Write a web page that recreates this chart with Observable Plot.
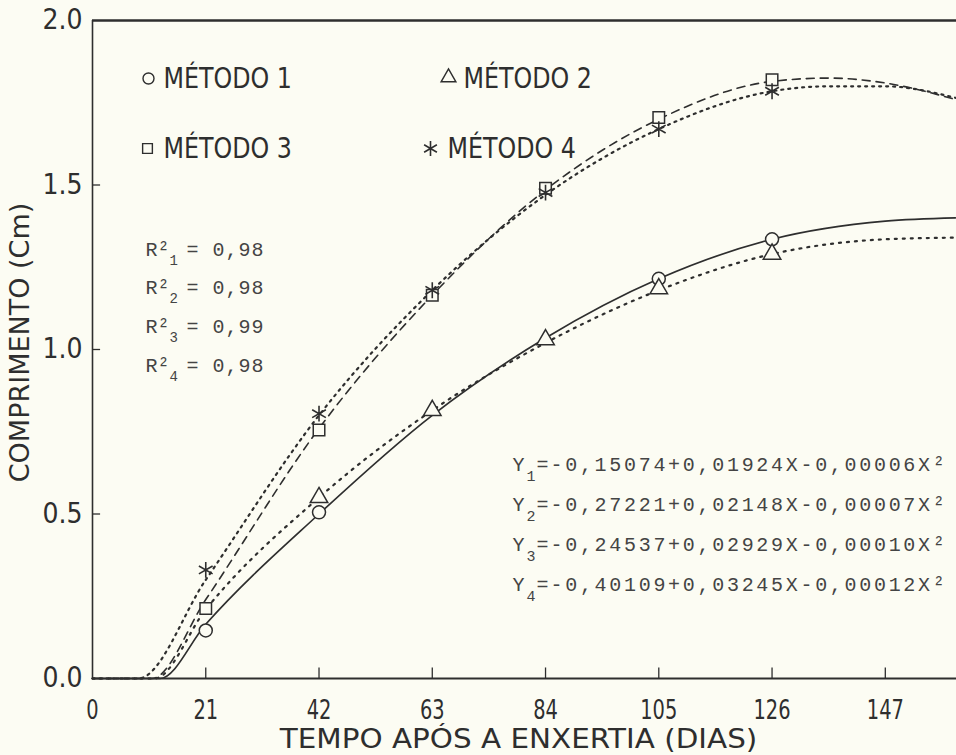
<!DOCTYPE html>
<html>
<head>
<meta charset="utf-8">
<script src="https://cdn.jsdelivr.net/npm/d3@7"></script>
<script src="https://cdn.jsdelivr.net/npm/@observablehq/plot@0.6"></script>
<style>
  html, body { margin: 0; padding: 0; background: #fcfcf3; }
  #chart svg { display: block; background: #fcfcf3; }
</style>
</head>
<body>
<div id="chart"></div>
<script>
// ---- data ----
const xTicks = [0, 21, 42, 63, 84, 105, 126, 147];
const yTicks = [0.0, 0.5, 1.0, 1.5, 2.0];

// fitted curves
const curve1X = [0, 12.5, 21, 42, 63, 84, 105, 126, 147, 160];
const curve1Y = [0, 0, 0.165, 0.50, 0.80, 1.035, 1.215, 1.335, 1.39, 1.40];
const curve2X = [0, 11.5, 21, 42, 63, 84, 105, 126, 147, 160];
const curve2Y = [0, 0, 0.21, 0.55, 0.815, 1.02, 1.18, 1.29, 1.335, 1.34];
const curve3X = [0, 11, 21, 42, 63, 84, 105, 126, 136.5, 147, 160];
const curve3Y = [0, 0, 0.24, 0.76, 1.165, 1.485, 1.70, 1.815, 1.825, 1.81, 1.76];
const curve4X = [0, 8.5, 21, 42, 63, 84, 105, 126, 136.5, 147, 160];
const curve4Y = [0, 0, 0.30, 0.80, 1.18, 1.47, 1.67, 1.785, 1.80, 1.80, 1.765];

// observed points
const m1X = [21, 42, 105, 126];
const m1Y = [0.146, 0.505, 1.215, 1.335];
const m2X = [42, 63, 84, 105, 126];
const m2Y = [0.55, 0.815, 1.03, 1.185, 1.29];
const m3X = [21, 42, 63, 84, 105, 126];
const m3Y = [0.213, 0.755, 1.165, 1.49, 1.705, 1.82];
const m4X = [21, 42, 63, 84, 105, 126];
const m4Y = [0.33, 0.805, 1.18, 1.477, 1.67, 1.785];

const legendLabels = ["MÉTODO 1", "MÉTODO 2", "MÉTODO 3", "MÉTODO 4"];
const r2Index = ["1", "2", "3", "4"];
const r2Values = ["0,98", "0,98", "0,99", "0,98"];
const eqIndex = ["1", "2", "3", "4"];
const eqBodies = [
  "-0,15074+0,01924X-0,00006X²",
  "-0,27221+0,02148X-0,00007X²",
  "-0,24537+0,02929X-0,00010X²",
  "-0,40109+0,03245X-0,00012X²"
];
const xTitle = "TEMPO APÓS A ENXERTIA (DIAS)";
const yTitle = "COMPRIMENTO (Cm)";

// ---- build tables ----
const zip = (xs, ys) => xs.map((x, i) => ({x, y: ys[i]}));
const c1 = zip(curve1X, curve1Y), c2 = zip(curve2X, curve2Y),
      c3 = zip(curve3X, curve3Y), c4 = zip(curve4X, curve4Y);
const p1 = zip(m1X, m1Y), p2 = zip(m2X, m2Y), p3 = zip(m3X, m3Y), p4 = zip(m4X, m4Y);
const r2Text = r2Index.map((k, i) => `R²${k} = ${r2Values[i]}`).join("\n");
const eqText = eqIndex.map((k, i) => `Y${k}= ${eqBodies[i]}`).join("\n");

const ink = "#2e2e2e";
const bg = "#fcfcf3";
const plotFont = '"DejaVu Sans", sans-serif';
const monoFont = '"Liberation Mono", "DejaVu Sans Mono", monospace';

const chart = Plot.plot({
  width: 956,
  height: 755,
  marginLeft: 92,
  marginTop: 20,
  marginRight: 0,
  marginBottom: 77,
  style: {background: bg, fontFamily: plotFont, color: ink, overflow: "visible"},
  x: {domain: [0, 160.2], axis: null},
  y: {domain: [0, 2], axis: null},
  marks: [
    // frame lines
    Plot.ruleY([0], {stroke: ink, strokeWidth: 2.2}),
    Plot.ruleY([2], {stroke: ink, strokeWidth: 2.4}),
    Plot.ruleX([0], {stroke: ink, strokeWidth: 1.6}),
    // inward ticks
    Plot.ruleX(xTicks.filter(d => d > 0), {x: d => d, y1: 0, y2: 0.032, stroke: ink, strokeWidth: 1.3}),
    Plot.ruleY(yTicks.filter(d => d > 0 && d < 2), {y: d => d, x1: 0, x2: 1.5, stroke: ink, strokeWidth: 1.3}),
    // tick labels
    Plot.axisX({ticks: xTicks, tickSize: 0, tickPadding: 21, fontSize: 27, label: null,
      tickFormat: d => String(d), fill: ink, ariaDescription: "xticklabels"}),
    Plot.axisY({ticks: yTicks, tickSize: 0, tickPadding: 10, fontSize: 28, label: null,
      tickFormat: d => d.toFixed(1), fill: ink, ariaDescription: "yticklabels"}),
    // axis titles
    Plot.text([xTitle], {frameAnchor: "bottom", textAnchor: "middle", lineAnchor: "bottom", dx: -6, dy: 69,
      fontSize: 27, fill: ink, text: d => d, ariaDescription: "xtitle"}),
    Plot.text([yTitle], {frameAnchor: "left", textAnchor: "middle", lineAnchor: "middle", rotate: -90, dx: -72, dy: -7,
      fontSize: 27, fill: ink, text: d => d, ariaDescription: "ytitle"}),
    // curves
    Plot.line(c1, {x: "x", y: "y", curve: "monotone-x", stroke: ink, strokeWidth: 1.7}),
    Plot.line(c2, {x: "x", y: "y", curve: "monotone-x", stroke: ink, strokeWidth: 2.2, strokeDasharray: "2,6", strokeLinecap: "round"}),
    Plot.line(c3, {x: "x", y: "y", curve: "monotone-x", stroke: ink, strokeWidth: 1.6, strokeDasharray: "8,6"}),
    Plot.line(c4, {x: "x", y: "y", curve: "monotone-x", stroke: ink, strokeWidth: 2.2, strokeDasharray: "2,5", strokeLinecap: "round"}),
    // points
    Plot.dot(p1, {x: "x", y: "y", symbol: "circle", r: 6.5, stroke: ink, fill: bg, strokeWidth: 1.5}),
    Plot.dot(p2, {x: "x", y: "y", symbol: "triangle", r: 6.5, stroke: ink, fill: bg, strokeWidth: 1.5}),
    Plot.dot(p3, {x: "x", y: "y", symbol: "square", r: 6.5, stroke: ink, fill: bg, strokeWidth: 1.5}),
    Plot.dot(p4, {x: "x", y: "y", symbol: "asterisk", r: 7.5, stroke: ink, strokeWidth: 1.6}),
    // legend
    Plot.dot([0], {frameAnchor: "top-left", dx: 56, dy: 58, symbol: "circle", r: 5.5, stroke: ink, strokeWidth: 1.4}),
    Plot.dot([0], {frameAnchor: "top-left", dx: 356, dy: 57, symbol: "triangle", r: 5.5, stroke: ink, strokeWidth: 1.4}),
    Plot.dot([0], {frameAnchor: "top-left", dx: 55, dy: 128, symbol: "square", r: 5.5, stroke: ink, strokeWidth: 1.4}),
    Plot.dot([0], {frameAnchor: "top-left", dx: 338, dy: 128, symbol: "asterisk", r: 7, stroke: ink, strokeWidth: 1.6}),
    Plot.text([legendLabels[0]], {frameAnchor: "top-left", dx: 71, dy: 58, textAnchor: "start", lineAnchor: "middle", fontSize: 29, fill: ink, text: d => d, ariaDescription: "legend"}),
    Plot.text([legendLabels[1]], {frameAnchor: "top-left", dx: 371, dy: 58, textAnchor: "start", lineAnchor: "middle", fontSize: 29, fill: ink, text: d => d, ariaDescription: "legend"}),
    Plot.text([legendLabels[2]], {frameAnchor: "top-left", dx: 71, dy: 128, textAnchor: "start", lineAnchor: "middle", fontSize: 29, fill: ink, text: d => d, ariaDescription: "legend"}),
    Plot.text([legendLabels[3]], {frameAnchor: "top-left", dx: 355, dy: 128, textAnchor: "start", lineAnchor: "middle", fontSize: 29, fill: ink, text: d => d, ariaDescription: "legend"}),
    // R² block
    Plot.text([r2Text], {frameAnchor: "top-left", dx: 53, dy: 235, textAnchor: "start",
      fontSize: 20, fontFamily: monoFont, fill: "#444", text: d => d, ariaDescription: "r2"}),
    // equations block
    Plot.text([eqText], {frameAnchor: "top-left", dx: 420, dy: 450, textAnchor: "start",
      fontSize: 20, fontFamily: monoFont, fill: "#444", text: d => d, ariaDescription: "equations"})
  ]
});

// ---- typographic post-processing (plotter-like proportions, sub/superscripts) ----
function textsOf(label) {
  return Array.from(chart.querySelectorAll(
    `g[aria-description="${label}"] text, g[aria-label="${label}"] text`));
}
function scaleTexts(label, sx) {
  textsOf(label).forEach(t => {
    const tr = t.getAttribute("transform") || "";
    t.setAttribute("transform", `${tr} scale(${sx},1)`);
  });
}
scaleTexts("xticklabels", 0.72);
scaleTexts("yticklabels", 0.9);
scaleTexts("legend", 0.82);
scaleTexts("xtitle", 1.09);
scaleTexts("ytitle", 1.0);

const NS = "http://www.w3.org/2000/svg";
function span(parent, text, attrs) {
  const s = document.createElementNS(NS, "tspan");
  for (const [k, v] of Object.entries(attrs || {})) s.setAttribute(k, v);
  s.textContent = text;
  parent.appendChild(s);
  return s;
}
function rebuild(label, lines, builder) {
  const t = textsOf(label)[0];
  if (!t) return;
  t.removeAttribute("y");
  t.removeAttribute("dy");
  while (t.firstChild) t.removeChild(t.firstChild);
  lines.forEach((ln, i) => builder(t, ln, i));
}
rebuild("r2", r2Index, (t, k, i) => {
  const y = +(i * 38.7).toFixed(1);
  span(t, "R²", {x: 0, y});
  span(t, k, {x: 24, y: y + 9, "font-size": 14});
  span(t, "= " + r2Values[i], {x: 41, y, "letter-spacing": 1});
});
rebuild("equations", eqIndex, (t, k, i) => {
  const y = i * 40;
  span(t, "Y", {x: 0, y});
  span(t, k, {x: 14, y: y + 10, "font-size": 15});
  span(t, "=", {x: 24, y});
  span(t, eqBodies[i], {x: 38, y, "letter-spacing": 2.7});
});

document.getElementById("chart").append(chart);
</script>
</body>
</html>
